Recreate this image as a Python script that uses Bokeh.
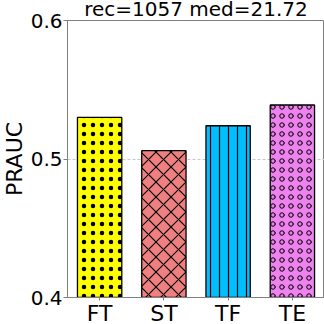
from bokeh.plotting import figure
from bokeh.models import ColumnDataSource, FixedTicker
from bokeh.embed import file_html
from bokeh.resources import INLINE

categories = ["FT", "ST", "TF", "TE"]
values = [0.530, 0.506, 0.524, 0.539]
colors = ["#FFFF00", "#F08080", "#00BFFF", "#EE82EE"]
hatches = ["dot", "diagonal_cross", "vertical_line", "ring"]
hatch_scales = [9, 15, 9, 9]
hatch_weights = [0.6, 1.2, 1.2, 1.0]
y_ticks = [0.4, 0.5, 0.6]
title_text = "rec=1057 med=21.72"
y_label = "PRAUC"

src = ColumnDataSource(dict(cat=categories, val=values, color=colors,
                            hatch=hatches, hscale=hatch_scales,
                            hweight=hatch_weights))

FONT = "DejaVu Sans"
p = figure(x_range=categories, y_range=(0.4, 0.6), title=title_text,
           output_backend="svg", toolbar_location=None,
           min_border_left=64, min_border_right=0, min_border_top=0,
           min_border_bottom=30)
p.frame_width = 257
p.frame_height = 277
p.styles = {"margin": "-6px 0px -14px -2px"}

p.vbar(x="cat", top="val", bottom=0.4, width=0.69, source=src,
       fill_color="color", line_color="black", line_width=1.3,
       hatch_pattern="hatch", hatch_color="black", hatch_scale="hscale",
       hatch_weight="hweight")

p.title.text_font = FONT
p.title.text_font_size = "20px"
p.title.text_font_style = "normal"
p.title.text_color = "black"
p.title.align = "center"
p.title.standoff = 0
p.title.offset = 4

p.yaxis.ticker = FixedTicker(ticks=y_ticks)
p.yaxis.axis_label = y_label
for ax in (p.xaxis[0], p.yaxis[0]):
    ax.major_label_text_font = FONT
    ax.major_label_text_color = "black"
    ax.axis_label_text_font = FONT
    ax.axis_label_text_font_style = "normal"
    ax.axis_label_text_color = "black"
    ax.axis_line_color = "#808080"
    ax.major_tick_line_color = "#808080"
    ax.major_tick_in = 0
    ax.minor_tick_line_color = None
p.yaxis.major_tick_out = 4
p.xaxis.major_tick_out = 3
p.yaxis.axis_label_text_font_size = "22px"
p.yaxis.major_label_text_font_size = "20px"
p.xaxis.major_label_text_font_size = "22px"
p.yaxis.major_label_standoff = 1
p.xaxis.major_label_standoff = 0
p.yaxis.axis_label_standoff = 1

p.xgrid.grid_line_color = None
p.ygrid.grid_line_color = "#C8C8C8"
p.ygrid.grid_line_dash = "3 2"
p.outline_line_color = "#808080"
p.outline_line_width = 1

open("out.html", "w").write(file_html(p, INLINE))
